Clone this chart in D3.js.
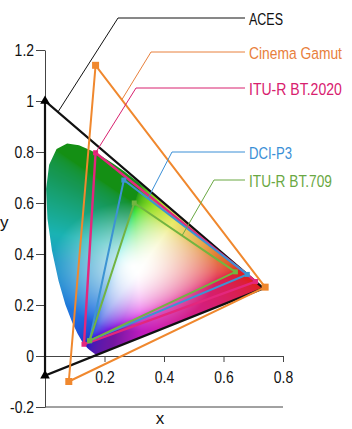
<!DOCTYPE html>
<html>
<head>
<meta charset="utf-8">
<script src="https://cdn.jsdelivr.net/npm/d3@7"></script>
<style>
  body { margin: 0; background: #fff; }
  text { font-family: "Liberation Sans Narrow", "Liberation Sans", Arial, sans-serif; }
</style>
</head>
<body>
<svg width="352" height="429"></svg>
<script>
// CIE 1931 spectral locus (x, y), 380 -> 700 nm
const locus = [
  [0.1741,0.0050],[0.1738,0.0049],[0.1733,0.0048],[0.1726,0.0048],[0.1714,0.0051],
  [0.1703,0.0058],[0.1689,0.0069],[0.1669,0.0086],[0.1644,0.0109],[0.1611,0.0138],
  [0.1566,0.0177],[0.1510,0.0227],[0.1440,0.0297],[0.1355,0.0399],[0.1241,0.0578],
  [0.1096,0.0868],[0.0913,0.1327],[0.0687,0.2007],[0.0454,0.2950],[0.0235,0.4127],
  [0.0082,0.5384],[0.0039,0.6548],[0.0139,0.7502],[0.0389,0.8120],[0.0743,0.8338],
  [0.1142,0.8262],[0.1547,0.8059],[0.1929,0.7816],[0.2296,0.7543],[0.2658,0.7243],
  [0.3016,0.6923],[0.3373,0.6589],[0.3731,0.6245],[0.4087,0.5896],[0.4441,0.5547],
  [0.4788,0.5202],[0.5125,0.4866],[0.5448,0.4544],[0.5752,0.4242],[0.6029,0.3965],
  [0.6270,0.3725],[0.6482,0.3514],[0.6658,0.3340],[0.6801,0.3197],[0.6915,0.3083],
  [0.7006,0.2993],[0.7079,0.2920],[0.7140,0.2859],[0.7190,0.2809],[0.7230,0.2770],
  [0.7260,0.2740],[0.7300,0.2700],[0.7320,0.2680],[0.7347,0.2653]
];

const gamuts = ['ACES', 'Cinema Gamut', 'ITU-R BT.2020', 'DCI-P3', 'ITU-R BT.709'];
const redPrimary   = [[0.7347,0.2653],[0.74,0.27],[0.708,0.292],[0.680,0.320],[0.64,0.33]];
const greenPrimary = [[0.0,1.0],[0.17,1.14],[0.170,0.797],[0.265,0.690],[0.30,0.60]];
const bluePrimary  = [[0.0001,-0.077],[0.08,-0.10],[0.131,0.046],[0.150,0.060],[0.15,0.06]];

const xTicks = [0.2, 0.4, 0.6, 0.8];
const yTicks = [-0.2, 0, 0.2, 0.4, 0.6, 0.8, 1.0, 1.2];

// look
const lineColors = ['#111', '#f0882e', '#e3277d', '#3d93d3', '#72b441'];
const textColors = ['#111', '#e8803c', '#d8206e', '#3a8fd6', '#6aa843'];
const lineWidths = [2.2, 2, 2.4, 2, 2];
const labelWidth = [34, 93, 93, 43, 83];
// label rows: y of the leader, x of the elbow, where on the G->R edge the leader ends
const labelY = [18, 52, 88, 152, 180];
const elbowX = [118, 151, 136, 172, 214];
const edgeT  = [0.059, 0.155, 0, 0.195, 0.473];

const svg = d3.select('svg');

const x = d3.scaleLinear().domain([0, 0.8]).range([45, 283]);
const y = d3.scaleLinear().domain([-0.2, 1.2]).range([407, 50]);

// narrow the text (no condensed face installed)
function narrow(sel, k) {
  sel.each(function () {
    const w = this.getComputedTextLength();
    d3.select(this).attr('textLength', w * k).attr('lengthAdjust', 'spacingAndGlyphs');
  });
}

// axes
svg.append('g')
  .attr('transform', `translate(${x(0)},0)`)
  .call(d3.axisLeft(y).tickValues(yTicks).tickSize(9).tickSizeOuter(0).tickPadding(2)
    .tickFormat(d => String(+d.toFixed(1))));
svg.append('g')
  .attr('transform', `translate(0,${y(0)})`)
  .call(d3.axisBottom(x).tickValues(xTicks).tickSize(6).tickSizeOuter(0).tickPadding(9)
    .tickFormat(d => String(+d.toFixed(1))));
svg.append('line')
  .attr('x1', x(0)).attr('x2', x(0.8))
  .attr('y1', y(-0.2)).attr('y2', y(-0.2))
  .attr('stroke', '#444').attr('stroke-width', 1);

svg.selectAll('.tick text').attr('font-size', 17).attr('fill', '#111').call(narrow, 0.82);
svg.selectAll('.domain, .tick line').attr('stroke', '#444');

svg.append('text').attr('x', 0).attr('y', 228).attr('font-size', 17).attr('fill', '#111').text('y');
svg.append('text').attr('x', 160).attr('y', 424).attr('font-size', 17).attr('fill', '#111')
  .attr('text-anchor', 'middle').text('x');

// chromaticity fill
function gam(v) { return v <= 0.0031308 ? 12.92 * v : 1.055 * Math.pow(v, 1 / 2.4) - 0.055; }
// edge lightness by hue, to get the printed look of the reference
const edgeL = d3.scaleLinear()
  .domain([0, 60, 90, 120, 150, 180, 215, 250, 280, 310, 360])
  .range([0.50, 0.60, 0.47, 0.32, 0.34, 0.40, 0.50, 0.42, 0.36, 0.46, 0.50]);
function xyColor(cx, cy) {
  cy = Math.max(cy, 0.002);
  const X = cx / cy, Y = 1, Z = (1 - cx - cy) / cy;
  const lr = 3.2406 * X - 1.5372 * Y - 0.4986 * Z;
  const lg = -0.9689 * X + 1.8758 * Y + 0.0415 * Z;
  const lb = 0.0557 * X - 0.2040 * Y + 1.0570 * Z;
  const a = [Math.max(lr, 0), Math.max(lg, 0), Math.max(lb, 0)];
  const m = Math.max(a[0], a[1], a[2], 1e-6);
  const hsl = d3.hsl(d3.rgb(255 * gam(a[0] / m), 255 * gam(a[1] / m), 255 * gam(a[2] / m)));
  let h = isNaN(hsl.h) ? 0 : hsl.h;
  h += 22 * Math.max(0, 1 - Math.abs(h - 175) / 55);
  const le = edgeL(h);
  const l = le + (hsl.l - 0.5) * 2 * (1 - le);
  let c = d3.rgb(d3.hsl(h, (isNaN(hsl.s) ? 0 : hsl.s) * 0.75, l));
  c = [c.r / 255, c.g / 255, c.b / 255];
  // soften towards white around the white point
  const dist = Math.hypot(cx - 0.30, (cy - 0.35) * 1.1);
  const s = Math.pow(Math.min(1, dist / 0.28), 0.9);
  return c.map(v => 1 - s * (1 - v));
}

const x0 = Math.floor(x(0)), x1 = Math.ceil(x(0.74)) + 1;
const y0 = Math.floor(y(0.84)) - 1, y1 = Math.ceil(y(0)) + 1;
const cw = x1 - x0, ch = y1 - y0;
const canvas = document.createElement('canvas');
canvas.width = cw; canvas.height = ch;
const ctx = canvas.getContext('2d');
const im = ctx.createImageData(cw, ch);
for (let j = 0; j < ch; j++) {
  for (let i = 0; i < cw; i++) {
    const c = xyColor(x.invert(x0 + i + 0.5), y.invert(y0 + j + 0.5));
    const k = (j * cw + i) * 4;
    im.data[k] = Math.round(255 * Math.min(1, c[0]));
    im.data[k + 1] = Math.round(255 * Math.min(1, c[1]));
    im.data[k + 2] = Math.round(255 * Math.min(1, c[2]));
    im.data[k + 3] = 255;
  }
}
ctx.putImageData(im, 0, 0);

const line = d3.line().x(d => x(d[0])).y(d => y(d[1]));
svg.append('clipPath').attr('id', 'locus')
  .append('path').attr('d', line(locus) + 'Z');
svg.append('image')
  .attr('x', x0).attr('y', y0).attr('width', cw).attr('height', ch)
  .attr('href', canvas.toDataURL())
  .attr('clip-path', 'url(#locus)');

// gamut triangles
const tri = gamuts.map((name, i) => ({
  name, i, pts: [redPrimary[i], greenPrimary[i], bluePrimary[i]]
}));

svg.append('g').selectAll('path')
  .data(tri).join('path')
  .attr('d', d => line(d.pts) + 'Z')
  .attr('fill', 'none')
  .attr('stroke', d => lineColors[d.i])
  .attr('stroke-width', d => lineWidths[d.i])
  .attr('stroke-linejoin', 'miter');

// vertex markers
const marks = svg.append('g');
tri.forEach(d => {
  d.pts.forEach((p, k) => {
    if (d.i === 0) {
      if (k === 0) return;
      marks.append('path')
        .attr('d', d3.symbol(d3.symbolTriangle, 40)())
        .attr('transform', `translate(${x(p[0])},${y(p[1])})`)
        .attr('fill', '#000');
    } else {
      const s = d.i === 1 ? 7 : 5;
      marks.append('rect')
        .attr('x', x(p[0]) - s / 2).attr('y', y(p[1]) - s / 2)
        .attr('width', s).attr('height', s)
        .attr('fill', lineColors[d.i]);
    }
  });
});

// labels with leader lines
const labels = svg.append('g');
tri.forEach(d => {
  const g = d.pts[1], r = d.pts[0], t = edgeT[d.i];
  const ex = g[0] + (r[0] - g[0]) * t, ey = g[1] + (r[1] - g[1]) * t;
  labels.append('polyline')
    .attr('points', [[245, labelY[d.i]], [elbowX[d.i], labelY[d.i]], [x(ex), y(ey)]].join(' '))
    .attr('fill', 'none')
    .attr('stroke', textColors[d.i])
    .attr('stroke-width', 1);
  const t0 = labels.append('text')
    .attr('font-size', 17)
    .attr('fill', textColors[d.i])
    .text(d.name);
  const k = labelWidth[d.i] / t0.node().getComputedTextLength();
  t0.attr('transform', `translate(249,${labelY[d.i] + 6.5}) scale(${k},1)`);
});
</script>
</body>
</html>
